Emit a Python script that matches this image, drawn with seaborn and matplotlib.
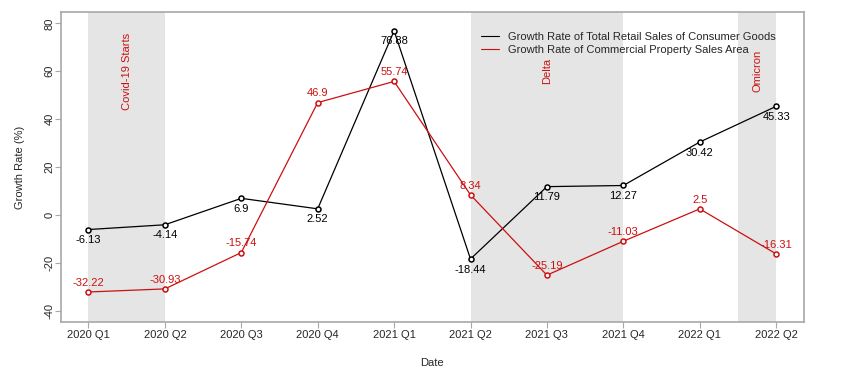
import numpy as np
import pandas as pd
import matplotlib
matplotlib.use("Agg")
import matplotlib.pyplot as plt
import seaborn as sns

# Quarterly growth data
quarters = ['2020 Q1', '2020 Q2', '2020 Q3', '2020 Q4', '2021 Q1',
            '2021 Q2', '2021 Q3', '2021 Q4', '2022 Q1', '2022 Q2']
retail_growth = [-6.13, -4.14, 6.9, 2.52, 76.88, -18.44, 11.79, 12.27, 30.42, 45.33]
property_growth = [-32.22, -30.93, -15.74, 46.9, 55.74, 8.34, -25.19, -11.03, 2.5, -16.31]

# Event bands (start, end in quarter index) and labels
event_names = ['Covid-19 Starts', 'Delta', 'Omicron']
event_start = [0, 5, 8.5]
event_end = [1, 7, 9]
event_label_x = [0.5, 6, 8.75]
event_label_y = 60

sns.set_theme(style="white")
plt.rcParams['font.family'] = ['Liberation Sans', 'DejaVu Sans']
plt.rcParams['font.size'] = 8

BLACK = '#000000'
RED = '#cc1010'
GRAY = '#a8a8a8'

df = pd.DataFrame({'idx': np.arange(len(quarters)),
                   'retail': retail_growth,
                   'property': property_growth})

fig = plt.figure(figsize=(8.66, 3.83), dpi=100)
ax = fig.add_axes([0.0704, 0.159, 0.8576, 0.810])

for s, e in zip(event_start, event_end):
    ax.axvspan(s, e, color='#e5e5e5', lw=0, zorder=0)
for name, xl in zip(event_names, event_label_x):
    ax.text(xl, event_label_y, name, rotation=90, color=RED,
            ha='center', va='center', fontsize=8)

sns.lineplot(data=df, x='idx', y='retail', ax=ax, color=BLACK, lw=0.9,
             marker='o', markersize=3.6, markerfacecolor='white',
             markeredgecolor=BLACK, markeredgewidth=1.1,
             label='Growth Rate of Total Retail Sales of Consumer Goods')
sns.lineplot(data=df, x='idx', y='property', ax=ax, color=RED, lw=0.9,
             marker='o', markersize=3.6, markerfacecolor='white',
             markeredgecolor=RED, markeredgewidth=1.1,
             label='Growth Rate of Commercial Property Sales Area')

for i, v in enumerate(retail_growth):
    ax.annotate(f'{v:g}', (i, v), xytext=(0, -4), textcoords='offset points',
                ha='center', va='top', color=BLACK, fontsize=8)
for i, v in enumerate(property_growth):
    ax.annotate(f'{v:g}', (i, v), xytext=(0, 3), textcoords='offset points',
                ha='center', va='bottom', color=RED, fontsize=8)

ax.set_xlim(-0.36, 9.36)
ax.set_ylim(-44.8, 84.8)
ax.set_xticks(range(len(quarters)))
ax.set_xticklabels(quarters)
ax.set_yticks([-40, -20, 0, 20, 40, 60, 80])
ax.set_yticklabels(['-40', '-20', '0', '20', '40', '60', '80'],
                   rotation=90, va='center')
ax.tick_params(axis='both', direction='out', length=4, width=0.8,
               color=GRAY, labelsize=8, pad=2, bottom=True, left=True)
ax.tick_params(axis='y', pad=0.5)
for sp in ax.spines.values():
    sp.set_color(GRAY)
    sp.set_linewidth(1.2)
ax.set_xlabel('Date', fontsize=8, labelpad=13)
ax.set_ylabel('Growth Rate (%)', fontsize=8, labelpad=14)

leg = ax.legend(loc='upper left', bbox_to_anchor=(0.552, 0.968), frameon=False,
                fontsize=8, handlelength=1.6, handletextpad=0.8,
                labelspacing=0.25)
for h in leg.get_lines():
    h.set_marker('')
    h.set_linewidth(0.8)

fig.savefig('out.png', dpi=100)
